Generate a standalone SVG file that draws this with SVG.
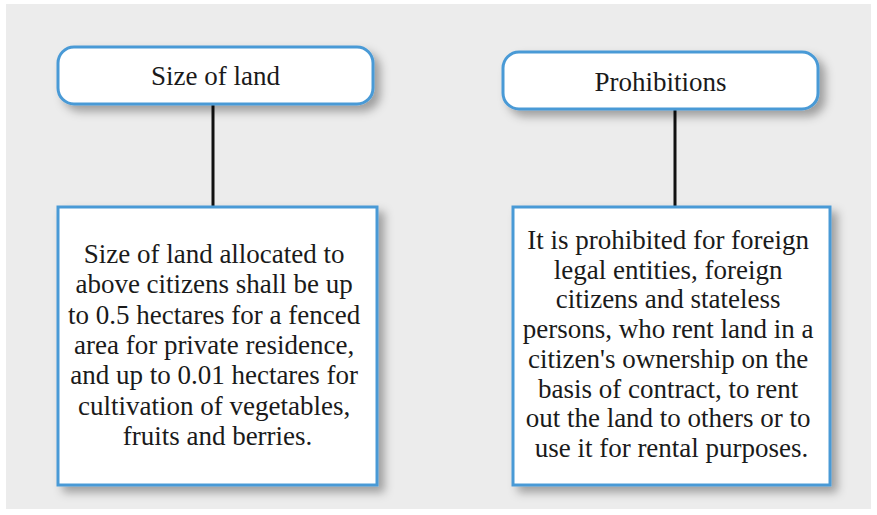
<svg xmlns="http://www.w3.org/2000/svg" width="877" height="515" viewBox="0 0 877 515">
  <defs>
    <filter id="sh" x="-15%" y="-15%" width="135%" height="150%">
      <feDropShadow dx="6" dy="6" stdDeviation="5" flood-color="#000" flood-opacity="0.33"/>
    </filter>
    <style>
      .title { fill:#ffffff; stroke:#4a9ad6; stroke-width:3; filter:url(#sh); }
      .body { fill:#ffffff; stroke:#4a9ad6; stroke-width:3; filter:url(#sh); }
      .t { font-family:"Liberation Serif","Times New Roman",serif; font-size:27px; fill:#1a1a1a; text-anchor:middle; }
      .conn { stroke:#111; stroke-width:3; fill:none; }
    </style>
  </defs>
  <rect x="0" y="0" width="877" height="515" fill="#ffffff"/>
  <rect x="6" y="4" width="865" height="505" fill="#ececec"/>

  <g id="connectors">
    <line class="conn" x1="213" y1="104" x2="213" y2="207"/>
    <line class="conn" x1="675" y1="109" x2="675" y2="207"/>
  </g>

  <g id="size-of-land">
    <rect class="title" x="58" y="47" width="315" height="57" rx="16" ry="16"/>
    <text class="t" x="215.5" y="85">Size of land</text>
  </g>

  <g id="prohibitions">
    <rect class="title" x="503" y="52" width="315" height="57" rx="16" ry="16"/>
    <text class="t" x="660.5" y="91">Prohibitions</text>
  </g>

  <g id="size-of-land-detail">
    <rect class="body" x="58" y="207" width="319" height="278"/>
    <text class="t" x="217.5" y="263">
      <tspan x="217.5" y="263">Size of land allocated to</tspan>
      <tspan x="217.5" y="293.3">above citizens shall be up</tspan>
      <tspan x="217.5" y="323.6">to 0.5 hectares for a fenced</tspan>
      <tspan x="217.5" y="353.9">area for private residence,</tspan>
      <tspan x="217.5" y="384.2">and up to 0.01 hectares for</tspan>
      <tspan x="217.5" y="414.5">cultivation of vegetables,</tspan>
      <tspan x="217.5" y="444.8">fruits and berries.</tspan>
    </text>
  </g>

  <g id="prohibitions-detail">
    <rect class="body" x="513" y="207" width="317" height="278"/>
    <text class="t" x="671.5" y="249">
      <tspan x="671.5" y="249">It is prohibited for foreign</tspan>
      <tspan x="671.5" y="278.7">legal entities, foreign</tspan>
      <tspan x="671.5" y="308.4">citizens and stateless</tspan>
      <tspan x="671.5" y="338.1">persons, who rent land in a</tspan>
      <tspan x="671.5" y="367.8">citizen's ownership on the</tspan>
      <tspan x="671.5" y="397.5">basis of contract, to rent</tspan>
      <tspan x="671.5" y="427.2">out the land to others or to</tspan>
      <tspan x="671.5" y="456.9">use it for rental purposes.</tspan>
    </text>
  </g>
</svg>
